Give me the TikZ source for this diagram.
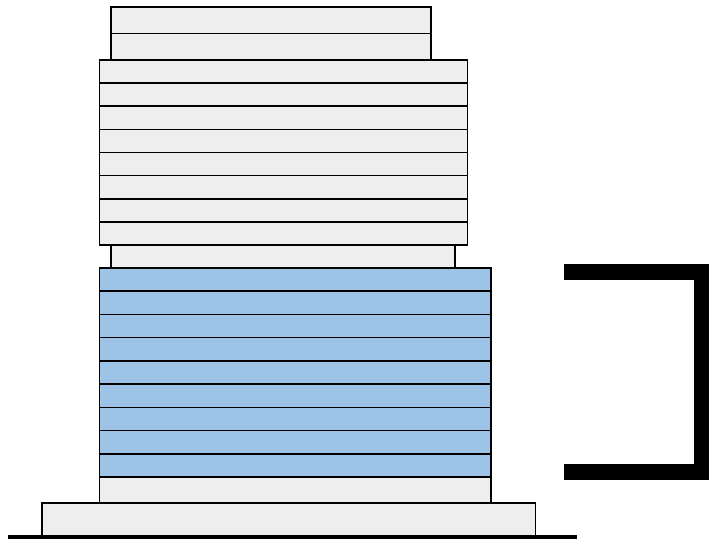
\documentclass[tikz,border=0pt]{standalone}
\definecolor{floorgray}{HTML}{EEEEEE}
\definecolor{floorblue}{HTML}{9DC3E6}
\tikzset{
  graybox/.style={draw=black, fill=floorgray, line width=1.6pt},
  bluebox/.style={draw=black, fill=floorblue, line width=1.6pt},
  groundline/.style={draw=black, line width=4pt},
  bracketline/.style={draw=black, line width=16pt, line join=miter},
}
\begin{document}
\begin{tikzpicture}[x=1pt,y=-1pt]
\useasboundingbox (0,0) rectangle (709,544);
% top block (2 floors)
\foreach \i in {0,1} {
  \path[graybox] (111,{7+\i*26.5}) rectangle (431,{7+(\i+1)*26.5});
}
% second block (8 floors)
\foreach \i in {0,...,7} {
  \path[graybox] (99.5,{60+\i*23.125}) rectangle (467.5,{60+(\i+1)*23.125});
}
% single floor
\path[graybox] (111,245) rectangle (455,268);
% blue block (9 floors)
\foreach \i in {0,...,8} {
  \path[bluebox] (99.5,{268+\i*23.22}) rectangle (491,{268+(\i+1)*23.22});
}
% lower gray floor
\path[graybox] (99.5,477) rectangle (491,503);
% base
\path[graybox] (42,503) rectangle (535.5,536);
% ground
\draw[groundline] (8,536.5) -- (577,536.5);
% bracket
\draw[bracketline] (564,272.2) -- (701.5,272.2) -- (701.5,472.2) -- (564,472.2);
\end{tikzpicture}
\end{document}
